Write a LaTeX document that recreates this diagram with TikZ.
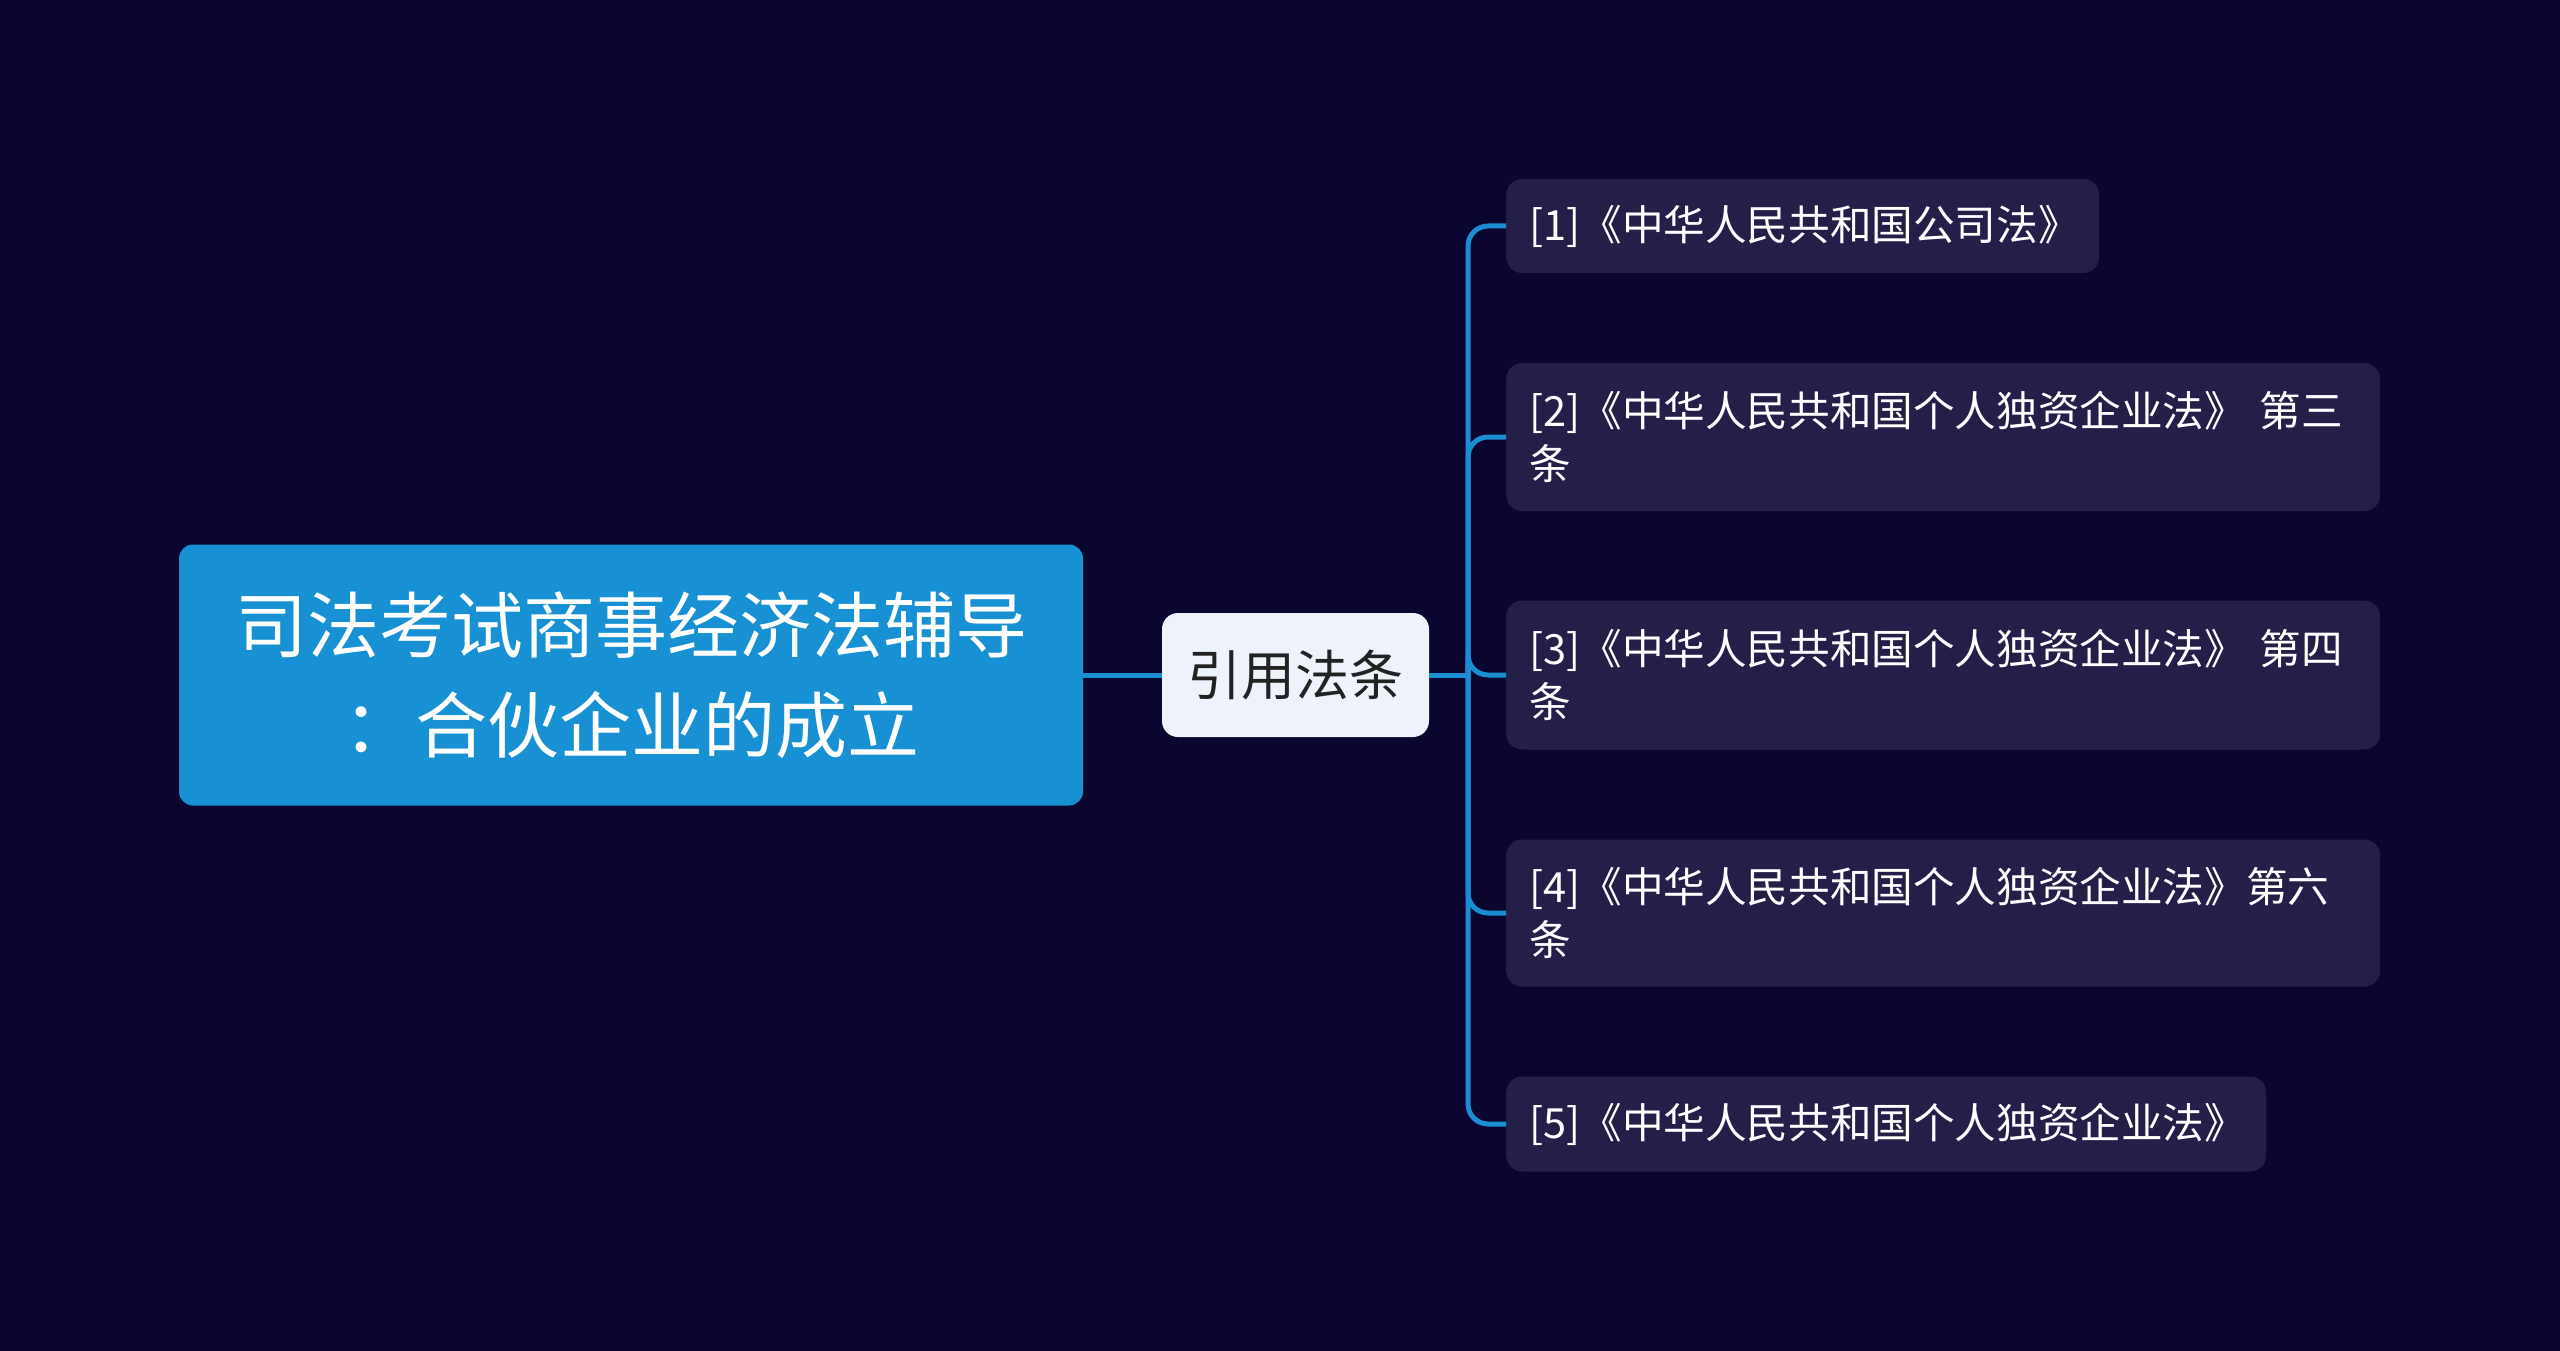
\documentclass[tikz,border=0pt]{standalone}
\usepackage{fontspec}
\setmainfont{Noto Sans CJK SC}
\definecolor{bg}{HTML}{0A0630}
\definecolor{rootc}{HTML}{1791D3}
\definecolor{linec}{HTML}{1B8DD3}
\definecolor{leafc}{HTML}{241F48}
\definecolor{midc}{HTML}{EEF3FB}
\definecolor{midtext}{HTML}{222222}
\begin{document}
\begin{tikzpicture}[x=1pt,y=-1pt,
  rootbox/.style={fill=rootc, rounded corners=14pt, inner sep=0pt, minimum width=904pt, minimum height=261pt,
    text=white, align=center, font=\fontsize{72}{100}\selectfont},
  midbox/.style={fill=midc, rounded corners=16pt, inner sep=0pt, minimum width=267pt, minimum height=124pt,
    text=midtext, align=center, font=\fontsize{54}{60}\selectfont},
  leafbox/.style={fill=leafc, rounded corners=16pt, inner xsep=23pt, inner ysep=0pt, anchor=west,
    text=white, align=left, font=\fontsize{41.6}{53}\selectfont},
  conn/.style={draw=linec, line width=5pt},
  branch/.style={conn, rounded corners=20pt}]
\fill[bg] (0,0) rectangle (2560,1351);
\useasboundingbox (0,0) rectangle (2560,1351);

\node[rootbox] (root) at (631,675) {司法考试商事经济法辅导\\：合伙企业的成立};
\node[midbox] (mid) at (1295.5,675) {引用法条};

\node[leafbox, minimum width=593pt, minimum height=94pt, text width=547pt] (l1) at (1506,226) {[1]《中华人民共和国公司法》};
\node[leafbox, minimum width=874pt, minimum height=148pt, text width=828pt] (l2) at (1506,437) {[2]《中华人民共和国个人独资企业法》 第三\\条};
\node[leafbox, minimum width=874pt, minimum height=149pt, text width=828pt] (l3) at (1506,675) {[3]《中华人民共和国个人独资企业法》 第四\\条};
\node[leafbox, minimum width=874pt, minimum height=147pt, text width=828pt] (l4) at (1506,913) {[4]《中华人民共和国个人独资企业法》第六\\条};
\node[leafbox, minimum width=760pt, minimum height=95pt, text width=714pt] (l5) at (1506,1124) {[5]《中华人民共和国个人独资企业法》};

\coordinate (j) at (1468,675);
\draw[conn] (root.east) -- (mid.west);
\draw[conn] (mid.east) -- (j);
\foreach \n in {l1,l2,l3,l4,l5}{
  \draw[branch] (j) |- (\n.west);
}
\end{tikzpicture}
\end{document}
